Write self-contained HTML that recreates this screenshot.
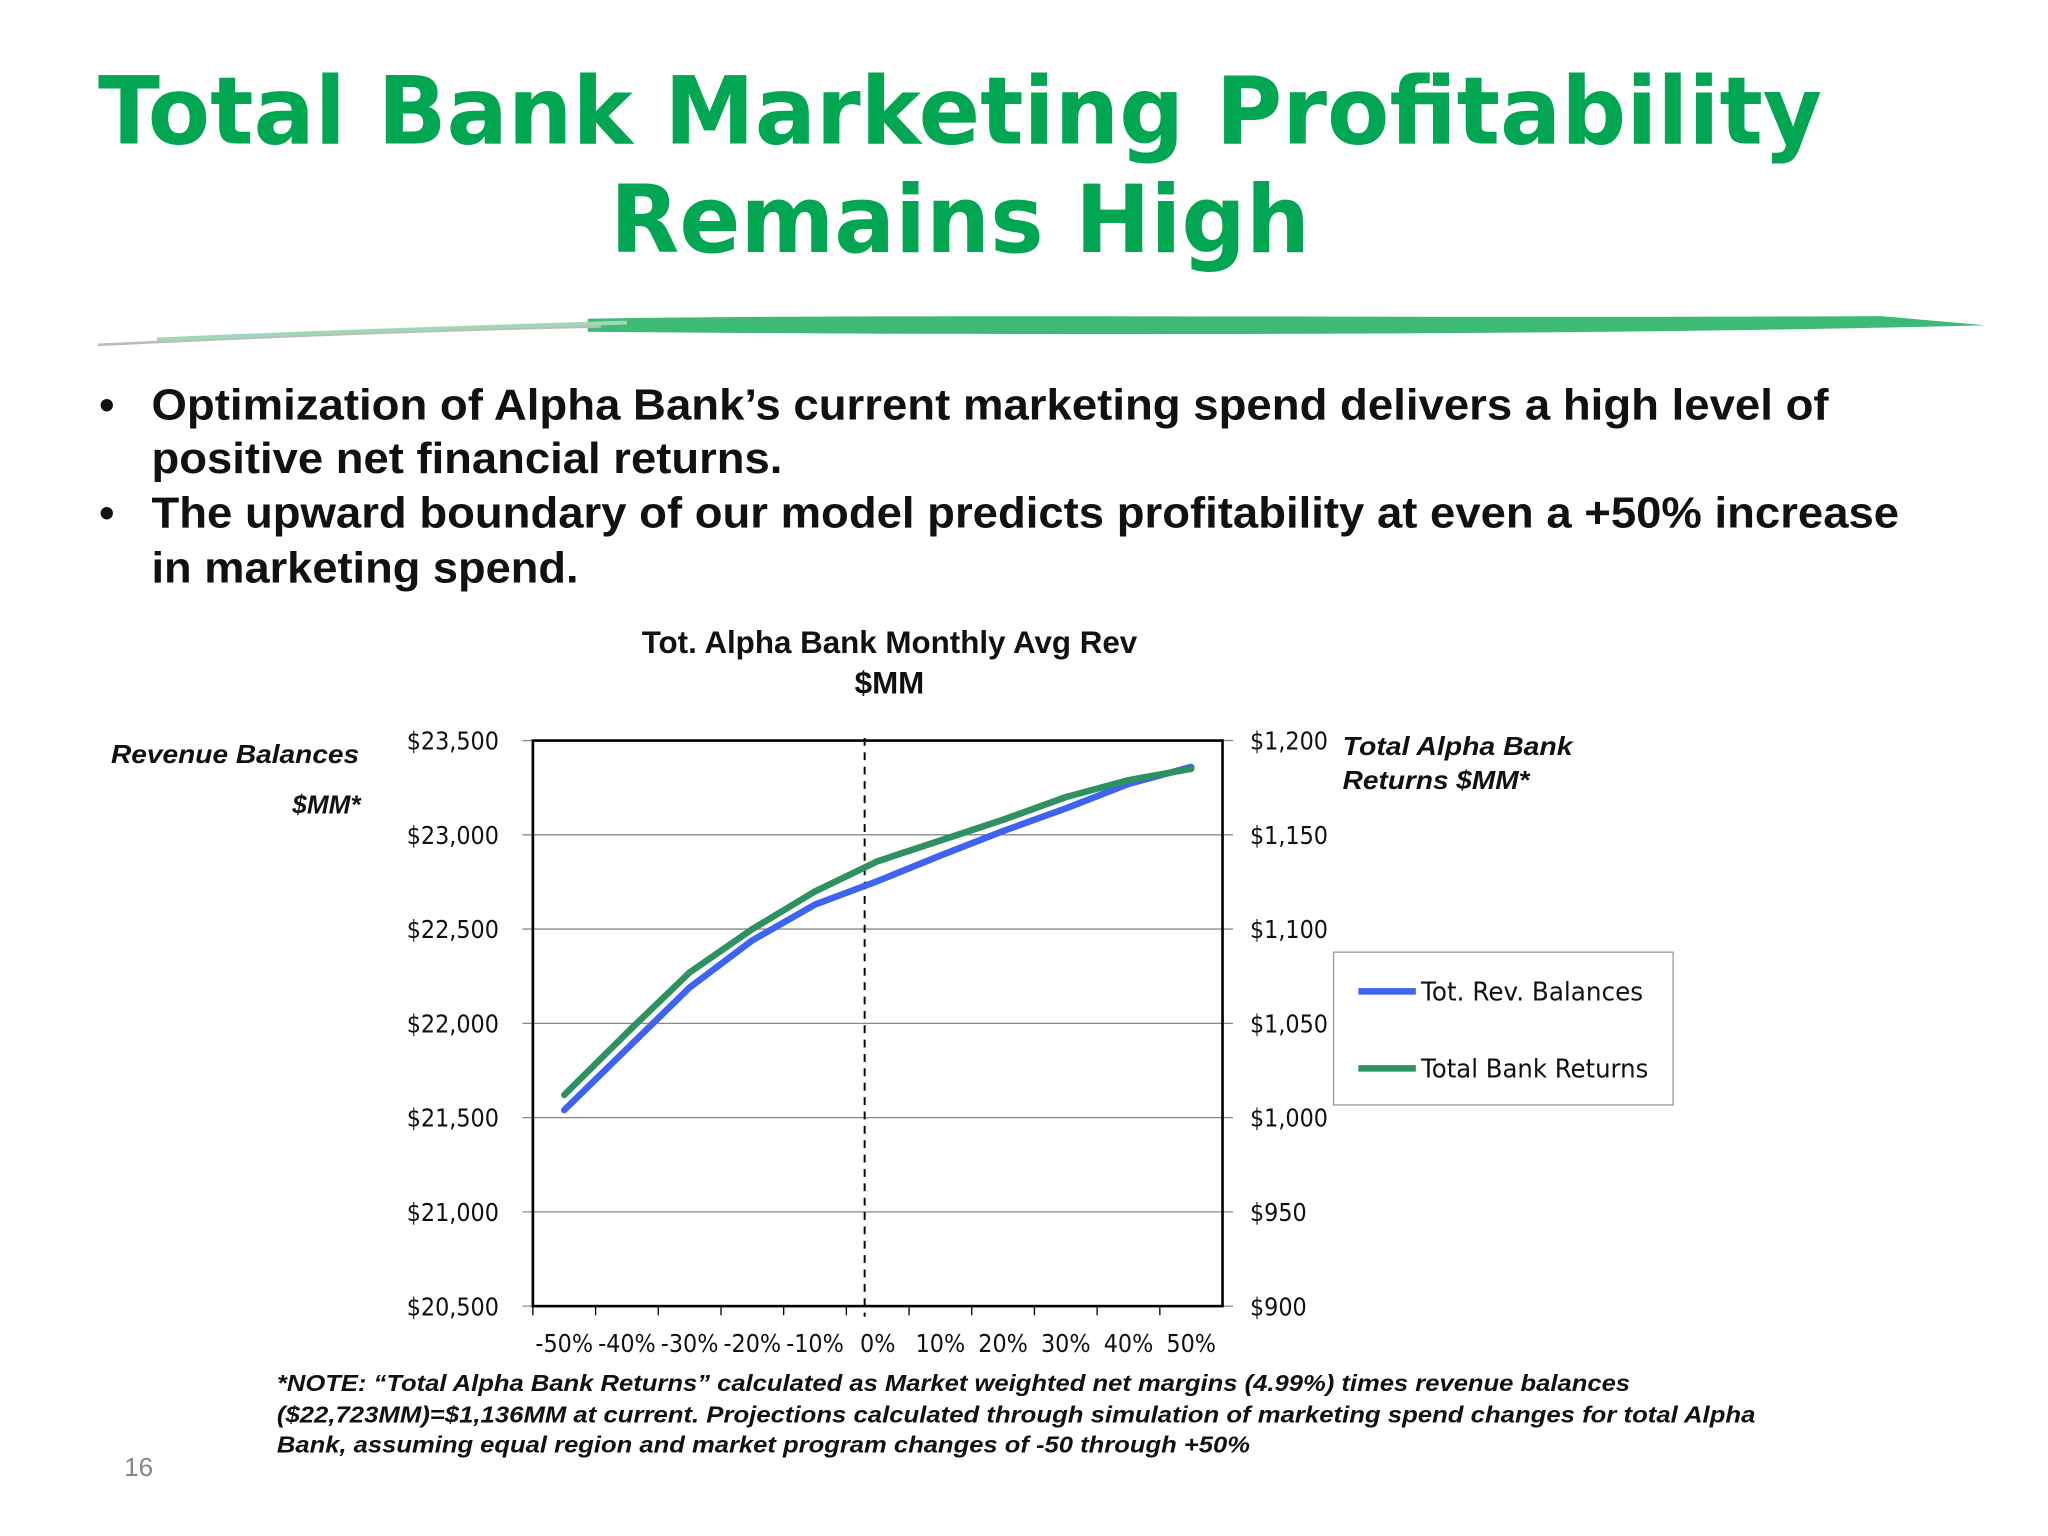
<!DOCTYPE html>
<html><head><meta charset="utf-8"><style>
html,body{margin:0;padding:0;background:#fff;}
svg{display:block}
</style></head><body>
<svg id="slide" width="2048" height="1536" viewBox="0 0 1568 1176" xmlns="http://www.w3.org/2000/svg" font-family="Liberation Sans, sans-serif">
<rect width="1568" height="1176" fill="#fff"/>
<g fill="#00A651" font-family="DejaVu Sans, sans-serif" font-weight="bold" font-size="72">
<text x="75" y="110" textLength="1320" lengthAdjust="spacingAndGlyphs">Total Bank Marketing Profitability</text>
<text x="467" y="193" textLength="536" lengthAdjust="spacingAndGlyphs">Remains High</text>
</g>
<g>
<path d="M450,244 C700,240 1100,244 1440,242 L1520,249 C1300,255 900,258 450,254 Z" fill="#3dba75"/>
<path d="M75,264 C200,258 350,252 460,250" stroke="#bbb" stroke-width="2" fill="none"/>
<path d="M120,260 C250,254 380,250 480,247" stroke="#9fd8b8" stroke-width="3" fill="none"/>
</g>
<g font-weight="bold" font-size="33" fill="#111">
<text x="76" y="321">•</text><text x="116" y="321" textLength="1284" lengthAdjust="spacingAndGlyphs">Optimization of Alpha Bank’s current marketing spend delivers a high level of</text>
<text x="116" y="362" textLength="483" lengthAdjust="spacingAndGlyphs">positive net financial returns.</text>
<text x="76" y="404">•</text><text x="116" y="404" textLength="1338" lengthAdjust="spacingAndGlyphs">The upward boundary of our model predicts profitability at even a +50% increase</text>
<text x="116" y="446" textLength="327" lengthAdjust="spacingAndGlyphs">in marketing spend.</text>
</g>
<g font-weight="bold" font-size="24" fill="#111" text-anchor="middle">
<text x="681" y="500">Tot. Alpha Bank Monthly Avg Rev</text>
<text x="681" y="531">$MM</text>
</g>
<g font-weight="bold" font-style="italic" font-size="20" fill="#111">
<text x="85" y="584" textLength="190" lengthAdjust="spacingAndGlyphs">Revenue Balances</text>
<text x="276" y="623" text-anchor="end">$MM*</text>
<text x="1028" y="578" textLength="176" lengthAdjust="spacingAndGlyphs">Total Alpha Bank</text>
<text x="1028" y="604" textLength="143" lengthAdjust="spacingAndGlyphs">Returns $MM*</text>
</g>
<g id="chart"></g>
<g>
<rect x="1021" y="729" width="260" height="117" fill="#fff" stroke="#999" stroke-width="1"/>
<g><line x1="1040" y1="759" x2="1084" y2="759" stroke="#3D63F0" stroke-width="5"/><text x="1088" y="766" font-size="20" fill="#111" font-family="DejaVu Sans, sans-serif" textLength="170" lengthAdjust="spacingAndGlyphs">Tot. Rev. Balances</text></g>
<g><line x1="1040" y1="818" x2="1084" y2="818" stroke="#2E9160" stroke-width="5"/><text x="1088" y="825" font-size="20" fill="#111" font-family="DejaVu Sans, sans-serif" textLength="174" lengthAdjust="spacingAndGlyphs">Total Bank Returns</text></g>
</g>
<g font-weight="bold" font-style="italic" font-size="17.5" fill="#111">
<text x="212" y="1065" textLength="1036" lengthAdjust="spacingAndGlyphs">*NOTE: “Total Alpha Bank Returns” calculated as Market weighted net margins (4.99%) times revenue balances</text>
<text x="212" y="1089" textLength="1132" lengthAdjust="spacingAndGlyphs">($22,723MM)=$1,136MM at current.  Projections calculated through simulation of marketing spend changes for total Alpha</text>
<text x="212" y="1112" textLength="745" lengthAdjust="spacingAndGlyphs">Bank, assuming equal region and market program changes of -50 through +50%</text>
</g>
<text x="95" y="1130" font-size="20" fill="#888">16</text>
</svg>
<script>
const categories = ["-50%","-40%","-30%","-20%","-10%","0%","10%","20%","30%","40%","50%"];
const revenueBalances = [21540,21865,22190,22440,22630,22755,22890,23020,23140,23270,23360];
const bankReturns = [1012,1045,1077,1100,1120,1136,1147,1158,1170,1179,1185];
const leftTicks = [20500,21000,21500,22000,22500,23000,23500];
const rightTicks = [900,950,1000,1050,1100,1150,1200];
const leftTickLabels = ["$20,500","$21,000","$21,500","$22,000","$22,500","$23,000","$23,500"];
const rightTickLabels = ["$900","$950","$1,000","$1,050","$1,100","$1,150","$1,200"];
const currentIndex = 5;

const NS = "http://www.w3.org/2000/svg";
const g = document.getElementById("chart");
const L = 408, R = 936, T = 567, B = 1000;
const bw = (R - L) / categories.length;
const xC = i => L + bw * (i + 0.5);
const yL = v => B - (v - 20500) / (23500 - 20500) * (B - T);
const yR = v => B - (v - 900) / (1200 - 900) * (B - T);
function mk(tag, attrs, parent) {
  const e = document.createElementNS(NS, tag);
  for (const k in attrs) e.setAttribute(k, attrs[k]);
  (parent || g).appendChild(e);
  return e;
}
leftTicks.forEach((v, i) => {
  const y = yL(v);
  const gl = mk("line", {x1: 400, x2: 944, y1: y, y2: y, stroke: "#888", "stroke-width": 1});
  
  
  const t = mk("text", {x: 382, y: y + 7, "text-anchor": "end", "font-size": 19, fill: "#111", "font-family": "DejaVu Sans Condensed, DejaVu Sans, sans-serif"});
  t.textContent = leftTickLabels[i];
  
  
});
rightTicks.forEach((v, i) => {
  const t = mk("text", {x: 957, y: yR(v) + 7, "font-size": 19, fill: "#111", "font-family": "DejaVu Sans Condensed, DejaVu Sans, sans-serif"});
  t.textContent = rightTickLabels[i];
  
  
});
const frame = mk("rect", {x: L, y: T, width: R - L, height: B - T, fill: "none", stroke: "#000", "stroke-width": 2});


categories.forEach((c, i) => {
  const tk = mk("line", {x1: L + bw * i, x2: L + bw * i, y1: B, y2: B + 7, stroke: "#000", "stroke-width": 1});
  
  
  const t = mk("text", {x: xC(i), y: 1035, "text-anchor": "middle", "font-size": 19, fill: "#111", "font-family": "DejaVu Sans Condensed, DejaVu Sans, sans-serif"});
  t.textContent = c;
  
  
});
const dx = L + bw * currentIndex + 14;
const dl = mk("line", {x1: dx, x2: dx, y1: T - 2, y2: B + 8, stroke: "#000", "stroke-width": 1.5, "stroke-dasharray": "6,5"});


const gp = mk("polyline", {points: bankReturns.map((v, i) => xC(i) + "," + yR(v)).join(" "), fill: "none", stroke: "#2E9160", "stroke-width": 5, "stroke-linecap": "round", "stroke-linejoin": "round"});


const bp = mk("polyline", {points: revenueBalances.map((v, i) => xC(i) + "," + yL(v)).join(" "), fill: "none", stroke: "#3D63F0", "stroke-width": 5, "stroke-linecap": "round", "stroke-linejoin": "round"});


g.appendChild(gp);
</script>
</body></html>
